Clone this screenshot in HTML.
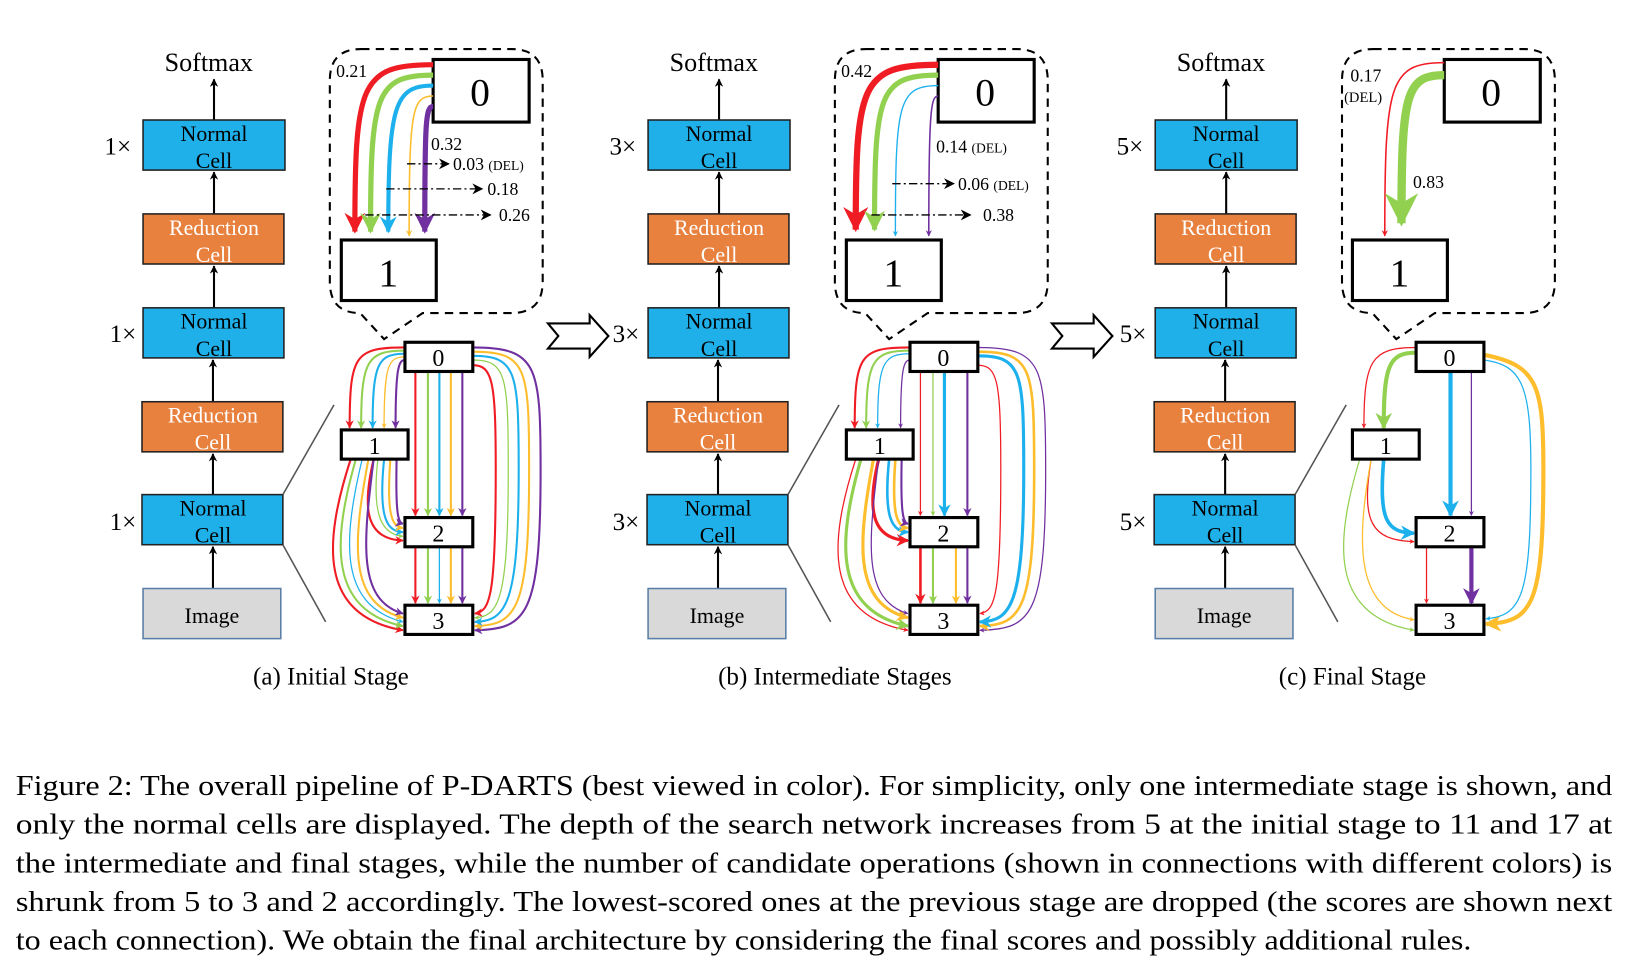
<!DOCTYPE html>
<html><head><meta charset="utf-8"><style>
html,body{margin:0;padding:0;background:#fff;}
svg{display:block;font-family:"Liberation Serif","Times New Roman",serif;}
text{font-family:"Liberation Serif","Times New Roman",serif;fill:#000;}
</style></head><body>
<svg width="1628" height="960" viewBox="0 0 1560 920" xmlns="http://www.w3.org/2000/svg" font-family="Liberation Serif, serif">
<defs>
<marker id="mk" viewBox="0 0 10 10" refX="9" refY="5" markerWidth="4" markerHeight="4" orient="auto"><path d="M0,0 L10,5 L0,10 L3,5z" fill="#000"/></marker>
<marker id="mr" viewBox="0 0 10 10" refX="9" refY="5" markerWidth="4" markerHeight="4" orient="auto"><path d="M0,0 L10,5 L0,10 L3,5z" fill="#f01c24"/></marker>
<marker id="mg" viewBox="0 0 10 10" refX="9" refY="5" markerWidth="4" markerHeight="4" orient="auto"><path d="M0,0 L10,5 L0,10 L3,5z" fill="#92d050"/></marker>
<marker id="mb" viewBox="0 0 10 10" refX="9" refY="5" markerWidth="4" markerHeight="4" orient="auto"><path d="M0,0 L10,5 L0,10 L3,5z" fill="#1cb0ec"/></marker>
<marker id="my" viewBox="0 0 10 10" refX="9" refY="5" markerWidth="4" markerHeight="4" orient="auto"><path d="M0,0 L10,5 L0,10 L3,5z" fill="#fdbd2c"/></marker>
<marker id="mp" viewBox="0 0 10 10" refX="9" refY="5" markerWidth="4" markerHeight="4" orient="auto"><path d="M0,0 L10,5 L0,10 L3,5z" fill="#7030a0"/></marker>
<marker id="mkt" viewBox="0 0 10 10" refX="9" refY="5" markerWidth="8" markerHeight="8" orient="auto"><path d="M0,0 L10,5 L0,10 L3,5z" fill="#000"/></marker>
<g id="col">
 <line x1="205" y1="115" x2="205" y2="76" stroke="#000" stroke-width="2" marker-end="url(#mk)"/>
 <rect x="137" y="115" width="136" height="48" fill="#1fb0ea" stroke="#222" stroke-width="1.5"/>
 <text x="205" y="135" font-size="21" text-anchor="middle">Normal</text>
 <text x="205" y="161" font-size="21" text-anchor="middle">Cell</text>
 <line x1="205" y1="205" x2="205" y2="165" stroke="#000" stroke-width="2" marker-end="url(#mk)"/>
 <rect x="137" y="205" width="135" height="48" fill="#e8803e" stroke="#222" stroke-width="1.5"/>
 <text x="205" y="225" font-size="21" text-anchor="middle" style="fill:#fff">Reduction</text>
 <text x="205" y="251" font-size="21" text-anchor="middle" style="fill:#fff">Cell</text>
 <line x1="205" y1="295" x2="205" y2="255" stroke="#000" stroke-width="2" marker-end="url(#mk)"/>
 <rect x="137" y="295" width="135" height="48" fill="#1fb0ea" stroke="#222" stroke-width="1.5"/>
 <text x="205" y="315" font-size="21" text-anchor="middle">Normal</text>
 <text x="205" y="341" font-size="21" text-anchor="middle">Cell</text>
 <line x1="204" y1="385" x2="204" y2="345" stroke="#000" stroke-width="2" marker-end="url(#mk)"/>
 <rect x="136" y="385" width="135" height="48" fill="#e8803e" stroke="#222" stroke-width="1.5"/>
 <text x="204" y="405" font-size="21" text-anchor="middle" style="fill:#fff">Reduction</text>
 <text x="204" y="431" font-size="21" text-anchor="middle" style="fill:#fff">Cell</text>
 <line x1="204" y1="474" x2="204" y2="435" stroke="#000" stroke-width="2" marker-end="url(#mk)"/>
 <rect x="136" y="474" width="135" height="48" fill="#1fb0ea" stroke="#222" stroke-width="1.5"/>
 <text x="204" y="494" font-size="21" text-anchor="middle">Normal</text>
 <text x="204" y="520" font-size="21" text-anchor="middle">Cell</text>
 <line x1="204" y1="564" x2="204" y2="524" stroke="#000" stroke-width="2" marker-end="url(#mk)"/>
 <rect x="137" y="564" width="132" height="48" fill="#d9d9d9" stroke="#5a7fa8" stroke-width="1.5"/>
 <text x="203" y="597" font-size="21" text-anchor="middle">Image</text>
 <text x="200" y="68" font-size="25" text-anchor="middle">Softmax</text>
 <line x1="271" y1="474" x2="320" y2="388" stroke="#555" stroke-width="1.5"/>
 <line x1="271" y1="522" x2="312" y2="596" stroke="#555" stroke-width="1.5"/>
 <path d="M346,47 H490 Q520,47 520,77 V270 Q520,300 490,300 H405 L368,325 L345,300 Q316,300 316,270 V77 Q316,47 346,47Z" fill="none" stroke="#000" stroke-width="2" stroke-dasharray="8,6"/>
</g>
<g id="nodes">
 <rect x="388" y="328" width="65" height="28" fill="#fff" stroke="#000" stroke-width="3"/>
 <rect x="327" y="412" width="64" height="28" fill="#fff" stroke="#000" stroke-width="3"/>
 <rect x="388" y="496" width="65" height="28" fill="#fff" stroke="#000" stroke-width="3"/>
 <rect x="388" y="580" width="65" height="28" fill="#fff" stroke="#000" stroke-width="3"/>
</g>
<g id="big">
 <rect x="415" y="57" width="92" height="60" fill="#fff" stroke="#000" stroke-width="3"/>
 <rect x="327" y="230" width="91" height="58" fill="#fff" stroke="#000" stroke-width="3"/>
</g>
<path id="harrow" d="M525,310 L565,310 L565,302 L583,322 L565,342 L565,334 L525,334 L535,322 Z" fill="#fff" stroke="#000" stroke-width="2"/>
</defs>

<use href="#col" x="0"/>
<use href="#col" x="484"/>
<use href="#col" x="970"/>
<text x="100" y="148" font-size="24">1×</text>
<text x="105" y="328" font-size="24">1×</text>
<text x="105" y="508" font-size="24">1×</text>
<text x="584" y="148" font-size="24">3×</text>
<text x="587" y="328" font-size="24">3×</text>
<text x="587" y="508" font-size="24">3×</text>
<text x="1070" y="148" font-size="24">5×</text>
<text x="1073" y="328" font-size="24">5×</text>
<text x="1073" y="508" font-size="24">5×</text>
<use href="#harrow"/>
<use href="#harrow" x="483"/>

<!-- ===== Stage A ===== -->
<use href="#big"/>
<g fill="none">
 <path d="M415,62 C345,62 340,80 340,222" stroke="#f01c24" stroke-width="5" marker-end="url(#mr)"/>
 <path d="M415,72 C360,72 355,90 355,222" stroke="#92d050" stroke-width="5" marker-end="url(#mg)"/>
 <path d="M415,82 C378,82 372,100 372,222" stroke="#1cb0ec" stroke-width="4" marker-end="url(#mb)"/>
 <path d="M415,92 C395,92 392,105 392,226" stroke="#fdbd2c" stroke-width="1.5" marker-end="url(#my)"/>
 <path d="M415,102 C408,102 407,115 407,222" stroke="#7030a0" stroke-width="5" marker-end="url(#mp)"/>
 <path d="M390,157 H430" stroke="#000" stroke-width="1.3" stroke-dasharray="8,3,2,3" marker-end="url(#mkt)"/>
 <path d="M370,181 H462" stroke="#000" stroke-width="1.3" stroke-dasharray="8,3,2,3" marker-end="url(#mkt)"/>
 <path d="M350,206 H470" stroke="#000" stroke-width="1.3" stroke-dasharray="8,3,2,3" marker-end="url(#mkt)"/>
</g>
<text x="460" y="101" font-size="38" text-anchor="middle">0</text>
<text x="372" y="274" font-size="38" text-anchor="middle">1</text>
<text x="322" y="74" font-size="17">0.21</text>
<text x="413" y="144" font-size="17">0.32</text>
<text x="434" y="163" font-size="17">0.03 <tspan font-size="13">(DEL)</tspan></text>
<text x="467" y="187" font-size="17">0.18</text>
<text x="478" y="212" font-size="17">0.26</text>

<g fill="none" stroke-width="2">
 <path d="M388,333 C340,333 335,340 335,410" stroke="#f01c24" marker-end="url(#mr)"/>
 <path d="M388,336 C352,336 346,345 346,410" stroke="#92d050" marker-end="url(#mg)"/>
 <path d="M388,339 C362,339 357,348 357,410" stroke="#1cb0ec" marker-end="url(#mb)"/>
 <path d="M388,342 C372,342 368,350 368,410" stroke="#fdbd2c" stroke-width="1.2" marker-end="url(#my)"/>
 <path d="M388,345 C382,345 379,352 379,410" stroke="#7030a0" marker-end="url(#mp)"/>
 <path d="M398,356 V494" stroke="#f01c24" marker-end="url(#mr)"/>
 <path d="M410,356 V494" stroke="#92d050" marker-end="url(#mg)"/>
 <path d="M421,356 V494" stroke="#1cb0ec" marker-end="url(#mb)"/>
 <path d="M432,356 V494" stroke="#fdbd2c" marker-end="url(#my)"/>
 <path d="M443,356 V494" stroke="#7030a0" marker-end="url(#mp)"/>
 <path d="M358,440 C346,490 352,517 386,518" stroke="#f01c24" marker-end="url(#mr)"/>
 <path d="M362,440 C356,495 366,512 386,514" stroke="#92d050" stroke-width="1.2" marker-end="url(#mg)"/>
 <path d="M368,440 C362,500 372,509 386,510" stroke="#1cb0ec" marker-end="url(#mb)"/>
 <path d="M374,440 C370,495 376,505 386,506" stroke="#fdbd2c" marker-end="url(#my)"/>
 <path d="M380,440 C379,490 381,501 386,502" stroke="#7030a0" marker-end="url(#mp)"/>
 <path d="M453,333 C515,333 518,350 518,450 C518,590 505,603 455,604" stroke="#7030a0" marker-end="url(#mp)"/>
 <path d="M453,337 C505,337 507,352 507,450 C507,585 495,599 455,600" stroke="#fdbd2c" marker-end="url(#my)"/>
 <path d="M453,341 C495,341 497,356 497,450 C497,580 485,595 455,596" stroke="#1cb0ec" marker-end="url(#mb)"/>
 <path d="M453,345 C485,345 487,360 487,450 C487,575 478,591 455,592" stroke="#92d050" stroke-width="1.2" marker-end="url(#mg)"/>
 <path d="M453,350 C472,350 475,365 475,450 C475,570 470,586 455,588" stroke="#f01c24" marker-end="url(#mr)"/>
 <path d="M336,440 C310,520 305,590 386,604" stroke="#f01c24" marker-end="url(#mr)"/>
 <path d="M341,440 C318,520 315,585 386,600" stroke="#92d050" marker-end="url(#mg)"/>
 <path d="M347,440 C328,520 325,580 386,596" stroke="#1cb0ec" stroke-width="1.2" marker-end="url(#mb)"/>
 <path d="M353,440 C338,520 333,578 386,592" stroke="#fdbd2c" marker-end="url(#my)"/>
 <path d="M358,440 C348,520 342,575 386,588" stroke="#7030a0" marker-end="url(#mp)"/>
 <path d="M398,524 V578" stroke="#f01c24" marker-end="url(#mr)"/>
 <path d="M410,524 V578" stroke="#92d050" marker-end="url(#mg)"/>
 <path d="M421,524 V578" stroke="#1cb0ec" stroke-width="1.2" marker-end="url(#mb)"/>
 <path d="M432,524 V578" stroke="#fdbd2c" marker-end="url(#my)"/>
 <path d="M443,524 V578" stroke="#7030a0" marker-end="url(#mp)"/>
</g>
<use href="#nodes"/>
<text x="420" y="351" font-size="23" text-anchor="middle">0</text>
<text x="359" y="435" font-size="23" text-anchor="middle">1</text>
<text x="420" y="519" font-size="23" text-anchor="middle">2</text>
<text x="420" y="603" font-size="23" text-anchor="middle">3</text>

<!-- ===== Stage B ===== -->
<g transform="translate(484,0)">
<use href="#big"/>
<g fill="none">
 <path d="M415,62 C341,62 336,80 336,220" stroke="#f01c24" stroke-width="6" marker-end="url(#mr)"/>
 <path d="M415,72 C358,72 354,90 354,220" stroke="#92d050" stroke-width="5" marker-end="url(#mg)"/>
 <path d="M415,82 C376,82 374,100 374,226" stroke="#1cb0ec" stroke-width="1.3" marker-end="url(#mb)"/>
 <path d="M415,92 C408,92 406,105 406,226" stroke="#7030a0" stroke-width="1.5" marker-end="url(#mp)"/>
 <path d="M371,176 H430" stroke="#000" stroke-width="1.3" stroke-dasharray="8,3,2,3" marker-end="url(#mkt)"/>
 <path d="M351,206 H446" stroke="#000" stroke-width="1.3" stroke-dasharray="8,3,2,3" marker-end="url(#mkt)"/>
</g>
<text x="460" y="101" font-size="38" text-anchor="middle">0</text>
<text x="372" y="274" font-size="38" text-anchor="middle">1</text>
<text x="322" y="74" font-size="17">0.42</text>
<text x="413" y="146" font-size="17">0.14 <tspan font-size="13">(DEL)</tspan></text>
<text x="434" y="182" font-size="17">0.06 <tspan font-size="13">(DEL)</tspan></text>
<text x="458" y="212" font-size="17">0.38</text>
</g>
<g transform="translate(484,0)" fill="none" stroke-width="2">
 <path d="M388,333 C340,333 335,340 335,410" stroke="#f01c24" marker-end="url(#mr)"/>
 <path d="M388,336 C352,336 346,345 346,410" stroke="#92d050" marker-end="url(#mg)"/>
 <path d="M388,339 C362,339 357,348 357,410" stroke="#1cb0ec" stroke-width="1.2" marker-end="url(#mb)"/>
 <path d="M388,345 C382,345 379,352 379,410" stroke="#7030a0" stroke-width="1.2" marker-end="url(#mp)"/>
 <path d="M398,356 V494" stroke="#f01c24" stroke-width="1.2" marker-end="url(#mr)"/>
 <path d="M410,356 V494" stroke="#92d050" stroke-width="1.2" marker-end="url(#mg)"/>
 <path d="M421,356 V494" stroke="#1cb0ec" stroke-width="3" marker-end="url(#mb)"/>
 <path d="M443,356 V494" stroke="#7030a0" marker-end="url(#mp)"/>
 <path d="M358,440 C346,490 352,517 386,518" stroke="#f01c24" stroke-width="3" marker-end="url(#mr)"/>
 <path d="M368,440 C362,500 372,509 386,510" stroke="#1cb0ec" stroke-width="2.5" marker-end="url(#mb)"/>
 <path d="M374,440 C370,495 376,505 386,506" stroke="#fdbd2c" stroke-width="2.5" marker-end="url(#my)"/>
 <path d="M380,440 C379,490 381,501 386,502" stroke="#7030a0" marker-end="url(#mp)"/>
 <path d="M453,333 C515,333 518,350 518,450 C518,590 505,603 455,604" stroke="#7030a0" stroke-width="1.2" marker-end="url(#mp)"/>
 <path d="M453,337 C505,337 507,352 507,450 C507,585 495,599 455,600" stroke="#fdbd2c" stroke-width="2.5" marker-end="url(#my)"/>
 <path d="M453,341 C495,341 497,356 497,450 C497,580 485,595 455,596" stroke="#1cb0ec" stroke-width="3" marker-end="url(#mb)"/>
 <path d="M453,350 C472,350 475,365 475,450 C475,570 470,586 455,588" stroke="#f01c24" stroke-width="1.2" marker-end="url(#mr)"/>
 <path d="M336,440 C310,520 305,590 386,604" stroke="#f01c24" stroke-width="1.2" marker-end="url(#mr)"/>
 <path d="M341,440 C318,520 315,585 386,600" stroke="#92d050" stroke-width="3" marker-end="url(#mg)"/>
 <path d="M353,440 C338,520 333,578 386,592" stroke="#fdbd2c" stroke-width="3" marker-end="url(#my)"/>
 <path d="M358,440 C348,520 342,575 386,588" stroke="#7030a0" stroke-width="1.2" marker-end="url(#mp)"/>
 <path d="M398,524 V578" stroke="#f01c24" stroke-width="2.5" marker-end="url(#mr)"/>
 <path d="M410,524 V578" stroke="#92d050" marker-end="url(#mg)"/>
 <path d="M432,524 V578" stroke="#fdbd2c" marker-end="url(#my)"/>
 <path d="M443,524 V578" stroke="#7030a0" marker-end="url(#mp)"/>
</g>
<g transform="translate(484,0)">
<use href="#nodes"/>
<text x="420" y="351" font-size="23" text-anchor="middle">0</text>
<text x="359" y="435" font-size="23" text-anchor="middle">1</text>
<text x="420" y="519" font-size="23" text-anchor="middle">2</text>
<text x="420" y="603" font-size="23" text-anchor="middle">3</text>
</g>

<!-- ===== Stage C ===== -->
<g transform="translate(969,0)">
<use href="#big"/>
<g fill="none">
 <path d="M415,60 C362,60 358,80 358,226" stroke="#f01c24" stroke-width="1.5" marker-end="url(#mr)"/>
 <path d="M415,72 C378,72 374,90 374,214" stroke="#92d050" stroke-width="8" marker-end="url(#mg)"/>
</g>
<text x="460" y="101" font-size="38" text-anchor="middle">0</text>
<text x="372" y="274" font-size="38" text-anchor="middle">1</text>
<text x="325" y="78" font-size="17">0.17</text>
<text x="319" y="98" font-size="14">(DEL)</text>
<text x="385" y="180" font-size="17">0.83</text>
</g>
<g transform="translate(969,0)" fill="none" stroke-width="1.2">
 <path d="M388,333 C345,333 338,345 338,410" stroke="#f01c24" marker-end="url(#mr)"/>
 <path d="M388,338 C362,338 357,350 357,410" stroke="#92d050" stroke-width="4" marker-end="url(#mg)"/>
 <path d="M421,356 V494" stroke="#1cb0ec" stroke-width="4" marker-end="url(#mb)"/>
 <path d="M441,356 V494" stroke="#7030a0" marker-end="url(#mp)"/>
 <path d="M345,440 C335,500 345,518 386,519" stroke="#f01c24" marker-end="url(#mr)"/>
 <path d="M357,440 C352,500 360,510 386,511" stroke="#1cb0ec" stroke-width="3.5" marker-end="url(#mb)"/>
 <path d="M453,340 C505,350 510,370 510,450 C510,580 500,596 455,598" stroke="#fdbd2c" stroke-width="4" marker-end="url(#my)"/>
 <path d="M453,345 C490,350 498,370 498,450 C498,570 490,590 455,593" stroke="#1cb0ec" marker-end="url(#mb)"/>
 <path d="M334,440 C310,520 305,590 386,604" stroke="#92d050" marker-end="url(#mg)"/>
 <path d="M345,440 C330,520 330,585 386,594" stroke="#fdbd2c" marker-end="url(#my)"/>
 <path d="M398,524 V578" stroke="#f01c24" marker-end="url(#mr)"/>
 <path d="M441,524 V578" stroke="#7030a0" stroke-width="4" marker-end="url(#mp)"/>
</g>
<g transform="translate(969,0)">
<use href="#nodes"/>
<text x="420" y="351" font-size="23" text-anchor="middle">0</text>
<text x="359" y="435" font-size="23" text-anchor="middle">1</text>
<text x="420" y="519" font-size="23" text-anchor="middle">2</text>
<text x="420" y="603" font-size="23" text-anchor="middle">3</text>
</g>

<text x="317" y="656" font-size="24" text-anchor="middle">(a) Initial Stage</text>
<text x="800" y="656" font-size="24" text-anchor="middle">(b) Intermediate Stages</text>
<text x="1296" y="656" font-size="24" text-anchor="middle">(c) Final Stage</text>

<g font-size="27">
<text x="15" y="762" textLength="1530" lengthAdjust="spacingAndGlyphs">Figure 2: The overall pipeline of P-DARTS (best viewed in color). For simplicity, only one intermediate stage is shown, and</text>
<text x="15" y="799" textLength="1530" lengthAdjust="spacingAndGlyphs">only the normal cells are displayed.  The depth of the search network increases from 5 at the initial stage to 11 and 17 at</text>
<text x="15" y="836" textLength="1530" lengthAdjust="spacingAndGlyphs">the intermediate and final stages, while the number of candidate operations (shown in connections with different colors) is</text>
<text x="15" y="873" textLength="1530" lengthAdjust="spacingAndGlyphs">shrunk from 5 to 3 and 2 accordingly. The lowest-scored ones at the previous stage are dropped (the scores are shown next</text>
<text x="15" y="910" textLength="1395" lengthAdjust="spacingAndGlyphs">to each connection). We obtain the final architecture by considering the final scores and possibly additional rules.</text>
</g>
</svg>
</body></html>
